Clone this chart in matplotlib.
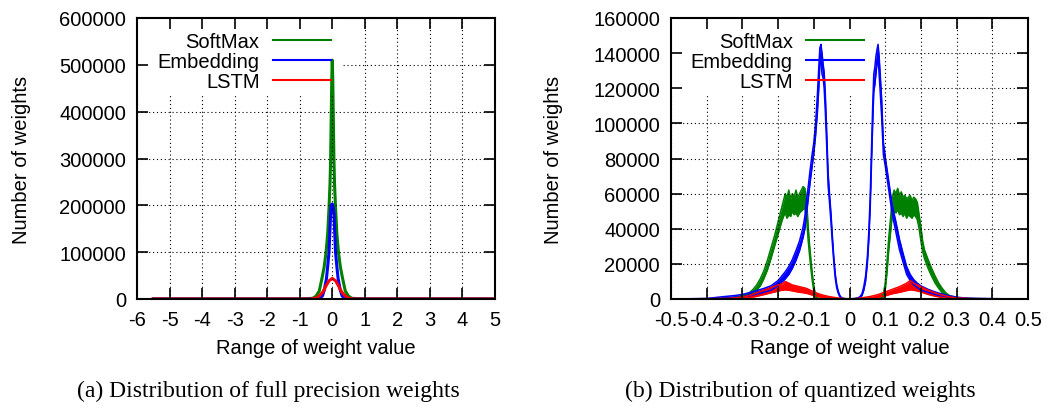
import matplotlib
matplotlib.use("Agg")
import matplotlib.pyplot as plt
from matplotlib.path import Path

plt.rcParams['font.family'] = ['Liberation Sans', 'DejaVu Sans']

# ---------------- (a) full precision weights ----------------
fp_soft_x = [-5.5, -1.0, -0.6, -0.5, -0.4, -0.32, -0.25, -0.19, -0.14, -0.1, -0.07, -0.05, -0.03, -0.015,
             0.0, 0.015, 0.03, 0.05, 0.07, 0.1, 0.14, 0.19, 0.25, 0.32, 0.4, 0.5, 0.6, 1.0, 5.0]
fp_soft_y = [0, 0, 1500, 6000, 17000, 43000, 68000, 100000, 140000, 195000, 245000, 300000, 400000, 470000,
             510000, 470000, 400000, 300000, 245000, 195000, 140000, 100000, 68000, 43000, 17000, 6000, 1500, 0, 0]

fp_emb_x = [-5.5, -1.0, -0.5, -0.38, -0.3, -0.25, -0.18, -0.14, -0.1, -0.07, -0.05, -0.03, 0.0,
            0.03, 0.05, 0.07, 0.1, 0.14, 0.18, 0.25, 0.3, 0.38, 0.5, 1.0, 5.0]
fp_emb_y = [0, 0, 0, 1500, 7000, 18000, 43000, 70000, 100000, 150000, 185000, 200000, 203000,
            195000, 185000, 150000, 100000, 70000, 43000, 18000, 7000, 1500, 0, 0, 0]

fp_lstm_x = [-5.5, -1.0, -0.7, -0.6, -0.5, -0.4, -0.3, -0.24, -0.2, -0.1, 0.0,
             0.1, 0.2, 0.24, 0.3, 0.4, 0.5, 0.6, 0.7, 1.0, 5.0]
fp_lstm_y = [0, 0, 0, 400, 2000, 6500, 14000, 21000, 27000, 39000, 44000,
             39000, 27000, 21000, 14000, 6500, 2000, 400, 0, 0, 0]

fp_xticks = [-6, -5, -4, -3, -2, -1, 0, 1, 2, 3, 4, 5]
fp_xticklabels = ['-6', '-5', '-4', '-3', '-2', '-1', '0', '1', '2', '3', '4', '5']
fp_yticks = [0, 100000, 200000, 300000, 400000, 500000, 600000]
fp_yticklabels = ['0', '100000', '200000', '300000', '400000', '500000', '600000']

# ---------------- (b) quantized weights: (x, low, high) of noisy band ----------------
q_soft = [
    (-0.50, 0, 0), (-0.34, 0, 300), (-0.32, 200, 900), (-0.30, 800, 1800), (-0.28, 1800, 3600),
    (-0.27, 3000, 5500), (-0.26, 5000, 8000), (-0.25, 7500, 11500), (-0.24, 11500, 16000),
    (-0.23, 16500, 22000), (-0.22, 23000, 29000), (-0.21, 30000, 36000), (-0.20, 37000, 44000),
    (-0.19, 44000, 52000), (-0.185, 47000, 56000), (-0.18, 49000, 60000), (-0.175, 46000, 58000),
    (-0.17, 48000, 62000), (-0.165, 47000, 57000), (-0.16, 50000, 60000), (-0.155, 48000, 58000),
    (-0.15, 49000, 62000), (-0.145, 47000, 58000), (-0.14, 49000, 60000), (-0.135, 50000, 62000),
    (-0.13, 51000, 64000), (-0.125, 52000, 63000), (-0.12, 45000, 56000), (-0.116, 34000, 42000),
    (-0.112, 25000, 31000), (-0.108, 17000, 22000), (-0.104, 10000, 14000), (-0.100, 4500, 7500),
    (-0.096, 1200, 3000), (-0.092, 200, 900), (-0.085, 0, 200),
    (0.085, 0, 200), (0.090, 300, 1000), (0.095, 1000, 3000), (0.100, 5000, 9000),
    (0.105, 15000, 21000), (0.110, 28000, 35000), (0.115, 38000, 46000), (0.120, 48000, 58000),
    (0.125, 50000, 62000), (0.130, 49000, 60000), (0.135, 51000, 63000), (0.140, 48000, 59000),
    (0.145, 49000, 61000), (0.150, 47000, 58000), (0.155, 49000, 59000), (0.160, 46000, 57000),
    (0.165, 48000, 58000), (0.170, 47000, 59000), (0.175, 46000, 56000), (0.180, 48000, 58000),
    (0.185, 47000, 57000), (0.190, 45000, 55000), (0.195, 40000, 48000), (0.200, 33000, 41000),
    (0.205, 27000, 33000), (0.21, 23000, 28000), (0.22, 17500, 22500), (0.23, 13000, 17500),
    (0.24, 9000, 13000), (0.25, 6000, 9000), (0.26, 3500, 6000), (0.27, 1800, 3500),
    (0.28, 800, 2000), (0.30, 200, 800), (0.32, 0, 300), (0.50, 0, 0),
]

q_emb = [
    (-0.50, 0, 0), (-0.40, 0, 300), (-0.36, 300, 1200), (-0.32, 800, 2000), (-0.30, 1200, 2600),
    (-0.28, 1800, 3600), (-0.26, 2800, 4800), (-0.24, 3800, 6000), (-0.22, 5000, 7500),
    (-0.20, 7500, 10500), (-0.19, 9500, 13000), (-0.18, 11500, 15500), (-0.17, 14000, 18500),
    (-0.16, 17500, 22500), (-0.15, 22000, 27500), (-0.14, 27500, 33000), (-0.13, 35000, 41000),
    (-0.125, 40000, 47000), (-0.12, 49000, 57000), (-0.115, 58000, 65000), (-0.11, 67000, 74000),
    (-0.105, 75000, 82000), (-0.10, 83000, 89000), (-0.095, 93000, 100000), (-0.09, 106000, 116000),
    (-0.086, 120000, 132000), (-0.083, 134000, 143000), (-0.080, 138000, 145000),
    (-0.077, 128000, 140000), (-0.074, 126000, 134000), (-0.071, 120000, 129000),
    (-0.068, 108000, 118000), (-0.064, 88000, 96000), (-0.060, 65000, 72000), (-0.056, 55000, 60000),
    (-0.052, 44000, 49000), (-0.048, 32000, 36000), (-0.044, 21000, 24000), (-0.040, 12000, 14500),
    (-0.036, 6500, 8500), (-0.032, 3500, 4800), (-0.028, 1600, 2400), (-0.024, 600, 1100),
    (-0.020, 100, 500), (-0.010, 0, 100), (0.0, 0, 0), (0.010, 0, 100), (0.020, 100, 500),
    (0.025, 300, 800), (0.030, 800, 1500), (0.035, 2000, 3000), (0.040, 5000, 7000),
    (0.045, 10000, 13000), (0.050, 20000, 24000), (0.054, 33000, 38000), (0.058, 52000, 58000),
    (0.062, 80000, 88000), (0.065, 100000, 110000), (0.068, 118000, 128000), (0.071, 122000, 132000),
    (0.074, 128000, 138000), (0.077, 134000, 142000), (0.080, 138000, 145000), (0.083, 128000, 138000),
    (0.086, 118000, 128000), (0.090, 104000, 114000), (0.095, 82000, 89000), (0.100, 76000, 81000),
    (0.105, 69000, 74000), (0.110, 62000, 67000), (0.115, 55000, 60000), (0.12, 48000, 53000),
    (0.13, 38000, 44000), (0.14, 28000, 34000), (0.15, 21000, 26000), (0.16, 14000, 18500),
    (0.17, 10500, 14000), (0.18, 8000, 11000), (0.19, 6500, 9000), (0.20, 5000, 7500),
    (0.22, 3800, 5500), (0.24, 2500, 4000), (0.26, 1500, 2800), (0.28, 800, 1800),
    (0.30, 300, 1100), (0.32, 100, 600), (0.36, 0, 300), (0.40, 0, 200), (0.50, 0, 0),
]

q_lstm = [
    (-0.50, 0, 0), (-0.34, 0, 300), (-0.30, 300, 1000), (-0.28, 800, 2000), (-0.26, 1500, 3500),
    (-0.24, 2500, 5000), (-0.22, 3500, 6500), (-0.20, 4500, 8000), (-0.19, 5000, 8500),
    (-0.18, 5200, 10000), (-0.17, 5000, 9000), (-0.16, 4600, 8000), (-0.15, 4200, 7500),
    (-0.14, 3800, 7000), (-0.13, 3600, 6500), (-0.12, 3200, 6000), (-0.11, 2600, 5000),
    (-0.10, 2000, 4000), (-0.08, 1000, 2500), (-0.06, 500, 1500), (-0.04, 200, 800),
    (-0.02, 0, 300), (0.0, 0, 0), (0.02, 0, 300), (0.04, 200, 800), (0.06, 500, 1500),
    (0.08, 1000, 2500), (0.10, 1800, 4000), (0.12, 3000, 5500), (0.14, 3800, 7000),
    (0.15, 4300, 8000), (0.16, 4800, 9000), (0.17, 5200, 10500), (0.18, 5000, 9000),
    (0.19, 4600, 8000), (0.20, 4000, 7000), (0.22, 2600, 5000), (0.24, 1600, 3500),
    (0.26, 800, 2200), (0.28, 300, 1200), (0.30, 0, 600), (0.34, 0, 200), (0.50, 0, 0),
]

q_xticks = [-0.5, -0.4, -0.3, -0.2, -0.1, 0.0, 0.1, 0.2, 0.3, 0.4, 0.5]
q_xticklabels = ['-0.5', '-0.4', '-0.3', '-0.2', '-0.1', '0', '0.1', '0.2', '0.3', '0.4', '0.5']
q_yticks = [0, 20000, 40000, 60000, 80000, 100000, 120000, 140000, 160000]
q_yticklabels = ['0', '20000', '40000', '60000', '80000', '100000', '120000', '140000', '160000']

series_names = ['SoftMax', 'Embedding', 'LSTM']
GREEN, BLUE, RED = '#008000', '#0000ff', '#ff0000'
colors = [GREEN, BLUE, RED]

W, H = 1048, 410
fig = plt.figure(figsize=(W / 100, H / 100), dpi=100)
ax1 = fig.add_axes([137 / W, 110 / H, 358 / W, 281 / H])
ax2 = fig.add_axes([671 / W, 110 / H, 357 / W, 281 / H])


def style(ax, xlim, ylim, xt, xtl, yt, ytl, hole_x1, ylab_x):
    ax.set_xlim(*xlim)
    ax.set_ylim(*ylim)
    ax.set_xticks(xt)
    ax.set_xticklabels(xtl)
    ax.set_yticks(yt)
    ax.set_yticklabels(ytl)
    ax.tick_params(direction='in', length=8, width=1.2, top=True, right=True,
                   labelsize=14.5, pad=8, colors='black')
    for s in ax.spines.values():
        s.set_linewidth(1.5)
    ax.set_axisbelow(False)
    ax.grid(True, color='black', linewidth=0.8, linestyle=(0, (1, 2.5)))
    hole_y0 = 0.73
    verts = [(-1, -1), (2, -1), (2, 2), (-1, 2), (-1, -1),
             (-0.5, hole_y0), (-0.5, 1.5), (hole_x1, 1.5), (hole_x1, hole_y0), (-0.5, hole_y0)]
    codes = [Path.MOVETO, Path.LINETO, Path.LINETO, Path.LINETO, Path.CLOSEPOLY] * 2
    clip = Path(verts, codes)
    for gl in ax.get_xgridlines() + ax.get_ygridlines():
        gl.set_clip_path(clip, ax.transAxes)
    ax.set_xlabel('Range of weight value', fontsize=14.5)
    ax.set_ylabel('Number of weights', fontsize=14.5)
    ax.xaxis.set_label_coords(0.5, -0.139)
    ax.yaxis.set_label_coords(ylab_x, 0.5)


# (a)
h1 = []
for (xs, ys), c, n in zip([(fp_soft_x, fp_soft_y), (fp_emb_x, fp_emb_y), (fp_lstm_x, fp_lstm_y)],
                          colors, series_names):
    ln, = ax1.plot(xs, ys, color=c, lw=2.2, label=n, solid_joinstyle='round')
    h1.append(ln)
style(ax1, (-6, 5), (0, 600000), fp_xticks, fp_xticklabels, fp_yticks, fp_yticklabels, 0.575, -0.296)

# (b)
h2 = []
for data, c, n in zip([q_soft, q_emb, q_lstm], colors, series_names):
    xs = [d[0] for d in data]
    lo = [d[1] for d in data]
    hi = [d[2] for d in data]
    ax2.fill_between(xs, lo, hi, color=c, lw=0)
    ln, = ax2.plot(xs, lo, color=c, lw=1.1, label=n)
    ax2.plot(xs, hi, color=c, lw=1.1)
    h2.append(ln)
style(ax2, (-0.5, 0.5), (0, 160000), q_xticks, q_xticklabels, q_yticks, q_yticklabels, 0.585, -0.303)

for ax, hs, anchor_x in [(ax1, h1, 0.542), (ax2, h2, 0.541)]:
    leg = ax.legend(hs, series_names, loc='upper right', bbox_to_anchor=(anchor_x, 0.950),
                    markerfirst=False, frameon=False, borderpad=0, borderaxespad=0,
                    handlelength=2.9, handletextpad=0.65, labelspacing=0.04, fontsize=14.5)
    for l in leg.get_lines():
        l.set_linewidth(1.5)

serif = ['Liberation Serif', 'DejaVu Serif']
fig.text(268 / W, 1 - 391 / H, '(a) Distribution of full precision weights', ha='center', va='center',
         family=serif, size=17)
fig.text(800 / W, 1 - 391 / H, '(b) Distribution of quantized weights', ha='center', va='center',
         family=serif, size=17)

fig.savefig('out.png', dpi=100)
